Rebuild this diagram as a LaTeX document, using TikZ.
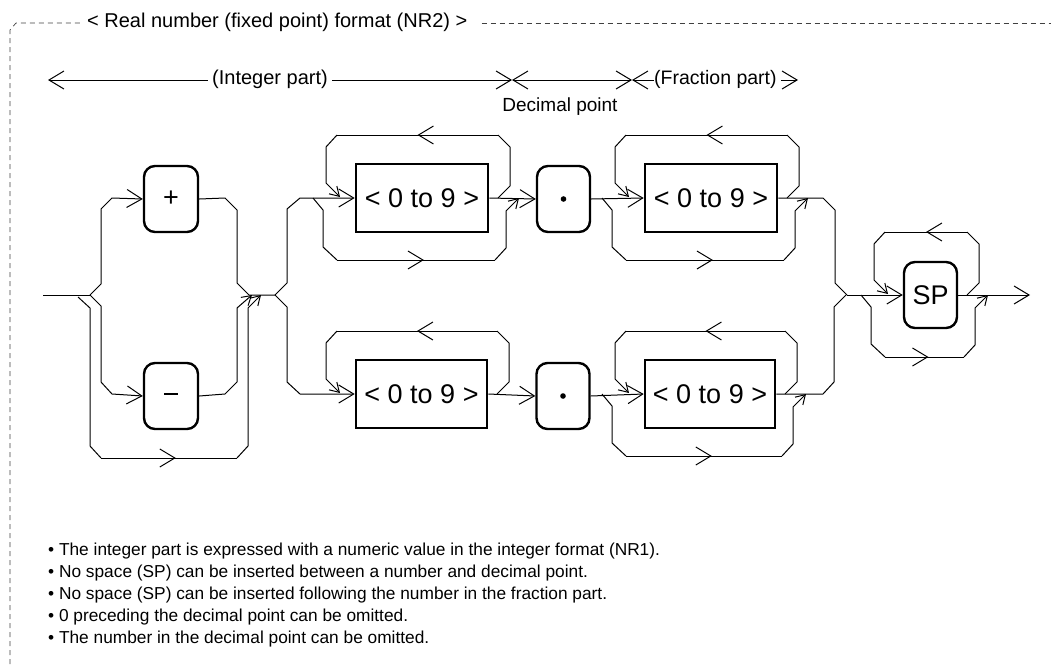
\documentclass[tikz,border=0pt]{standalone}
\usepackage{fontspec}
\setmainfont{Liberation Sans}
\usetikzlibrary{arrows.meta,decorations.markings}
\tikzset{
  >={Straight Barb[length=15pt,width=18pt]},
  sm/.tip={Straight Barb[length=9pt,width=11pt]},
  conn/.style={line width=1pt,black},
  midarr/.style={postaction={decorate},decoration={markings,mark=at position #1 with {\arrow{>}}}},
  digbox/.style={draw,line width=2.6pt,minimum width=132pt,minimum height=68pt,inner sep=0pt,font=\fontsize{27}{30}\selectfont},
  rbox/.style={draw,line width=2.4pt,rounded corners=11pt,minimum width=54pt,minimum height=66pt,inner sep=0pt,font=\fontsize{27}{30}\selectfont},
  lbl/.style={inner sep=0pt,font=\fontsize{20}{24}\selectfont},
  frame/.style={line width=0.7pt,dash pattern=on 5pt off 4pt,black!75},
}
% loop back over a box: L R Y
\newcommand\lp[3]{%
  \draw[conn] ({#2+10},#3) -- ({#2+22},{#3-12}) -- ({#2+22},{#3-51}) -- ({#2+10},{#3-63});
  \draw[conn,midarr=0.5] ({#2+10},{#3-63}) -- ({#1-19},{#3-63});
  \draw[conn,-sm] ({#1-19},{#3-63}) -- ({#1-30},{#3-51}) -- ({#1-30},{#3-15}) -- ({#1-16},{#3-1});
}
% bypass under a box: L R Y
\newcommand\bp[3]{%
  \draw[conn] ({#1-43},#3) -- ({#1-33},{#3+12}) -- ({#1-33},{#3+49}) -- ({#1-19},{#3+62});
  \draw[conn,midarr=0.55] ({#1-19},{#3+62}) -- ({#2+7},{#3+62});
  \draw[conn,-sm] ({#2+7},{#3+62}) -- ({#2+18},{#3+50}) -- ({#2+18},{#3+13}) -- ({#2+31},#3);
}
\begin{document}
\begin{tikzpicture}[x=1pt,y=-1pt]
\useasboundingbox (0,0) rectangle (1051,664);
% frame and title
\node[lbl,anchor=west] (title) at (87,22) {< Real number (fixed point) format (NR2) >};
\draw[frame] (10,664) -- (10,30) -- (16,23) -- (80,23);
\draw[frame] ([xshift=14pt]title.east |- 0,23) -- (1051,23);
% dimension row
\node[lbl,anchor=west] (intp) at (212,79) {(Integer part)};
\coordinate (ia) at (48,80);
\coordinate (x1) at (512,80);
\coordinate (x2) at (632,80);
\node[lbl,anchor=west,font=\fontsize{19.5}{23}\selectfont] (frp) at (654,79) {(Fraction part)};
\coordinate (fe) at (798,80);
\draw[conn,<-] (ia) -- ([xshift=-4pt]intp.west |- ia);
\draw[conn,->] ([xshift=4pt]intp.east |- x1) -- (x1);
\draw[conn,<->] (x1) -- (x2);
\draw[conn,<-] (x2) -- (frp.west |- x2);
\draw[conn,->] ([xshift=4pt]frp.east |- fe) -- (fe);
\node[lbl,font=\fontsize{19}{23}\selectfont] (dp) at (560,107) {Decimal point};
% boxes
\node[rbox] (plus) at (171,199) {+};
\node[rbox] (minus) at (171,396) {\rule[0.3ex]{0.5em}{1.6pt}};
\node[digbox] (d1) at (422,198) {< 0 to 9 >};
\node[rbox,minimum width=53pt] (dot1) at (563.5,199) {\tikz\fill (0,0) circle (2.8pt);};
\node[digbox] (d2) at (711,198) {< 0 to 9 >};
\node[digbox,minimum width=131pt] (d3) at (421.5,394) {< 0 to 9 >};
\node[rbox,minimum width=53pt] (dot2) at (563,396) {\tikz\fill (0,0) circle (2.8pt);};
\node[digbox,minimum width=130pt] (d4) at (710,394) {< 0 to 9 >};
\node[rbox,minimum width=53pt] (sp) at (930.5,295) {SP};
\coordinate (start) at (43,295);
\coordinate (j1) at (90,295);
\coordinate (j2) at (275,295);
\coordinate (j3) at (847,295);
\coordinate (end) at (1030,295);
% sign part
\draw[conn] (start) -- (j1);
\draw[conn,->] (j1) -- (101,284) -- (101,209) -- (112,198) -- (plus.west);
\draw[conn,->] (j1) -- (101,306) -- (101,382) -- (112,394) -- (minus.west);
\draw[conn] (78,297) -- (90,308) -- (90,446) -- (101,458);
\draw[conn,midarr=0.55] (101,458) -- (237,458);
\draw[conn,-sm] (237,458) -- (248,446) -- (248,308) -- (261,295);
\draw[conn] (plus.east) -- (225,198) -- (237,210) -- (237,283) -- (249,295) -- (j2);
\draw[conn,-sm] (minus.east) -- (225,394) -- (237,382) -- (237,308) -- (252,295);
% integer part distribution
\draw[conn,->] (j2) -- (287,283) -- (287,209) -- (300,198) -- (d1.west);
\draw[conn,->] (j2) -- (287,307) -- (287,382) -- (300,394) -- (d3.west);
% top row
\draw[conn,->] (d1.east) -- (dot1.west);
\draw[conn,->] (dot1.east) -- (d2.west);
\lp{356}{488}{198}
\bp{356}{488}{198}
\lp{645}{777}{198}
\bp{645}{777}{198}
\draw[conn] (d2.east) -- (823,198) -- (835,210) -- (835,283) -- (j3);
% bottom row
\draw[conn,->] (d3.east) -- (dot2.west);
\draw[conn,->] (dot2.east) -- (d4.west);
\lp{356}{487}{394}
\lp{645}{775}{394}
\bp{645}{775}{394}
\draw[conn] (d4.east) -- (823,394) -- (834,382) -- (834,307) -- (846,295);
% SP part
\draw[conn,->] (j3) -- (sp.west);
\lp{904}{957}{295}
\bp{904}{957}{295}
\draw[conn,->] (sp.east) -- (end);
% notes
\node[anchor=north west,align=left,inner sep=0pt,font=\fontsize{17.3}{22}\selectfont] (notes) at (48,543) {%
• The integer part is expressed with a numeric value in the integer format (NR1).\\
• No space (SP) can be inserted between a number and decimal point.\\
• No space (SP) can be inserted following the number in the fraction part.\\
• 0 preceding the decimal point can be omitted.\\
• The number in the decimal point can be omitted.};
\end{tikzpicture}
\end{document}
